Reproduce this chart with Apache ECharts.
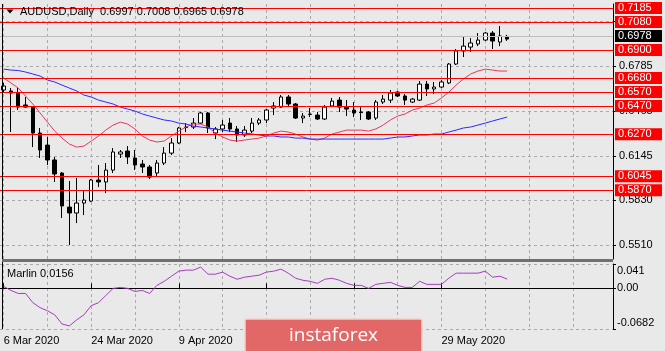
<!DOCTYPE html>
<html>
<head>
<meta charset="utf-8">
<script src="https://cdn.jsdelivr.net/npm/echarts@6/dist/echarts.min.js"></script>
<style>
  html, body { margin: 0; padding: 0; background: #e9e9e9; }
  #chart { width: 665px; height: 351px; }
</style>
</head>
<body>
<div id="chart"></div>
<script>
// daily bars, 6 Mar .. 11 Jun 2020, plus empty slots on the right
var categories = [
  '6 Mar 2020', '9 Mar 2020', '10 Mar 2020', '11 Mar 2020', '12 Mar 2020', '13 Mar 2020',
  '16 Mar 2020', '17 Mar 2020', '18 Mar 2020', '19 Mar 2020', '20 Mar 2020',
  '23 Mar 2020', '24 Mar 2020', '25 Mar 2020', '26 Mar 2020', '27 Mar 2020',
  '30 Mar 2020', '31 Mar 2020', '1 Apr 2020', '2 Apr 2020', '3 Apr 2020',
  '6 Apr 2020', '7 Apr 2020', '8 Apr 2020', '9 Apr 2020', '10 Apr 2020',
  '13 Apr 2020', '14 Apr 2020', '15 Apr 2020', '16 Apr 2020', '17 Apr 2020',
  '20 Apr 2020', '21 Apr 2020', '22 Apr 2020', '23 Apr 2020', '24 Apr 2020',
  '27 Apr 2020', '28 Apr 2020', '29 Apr 2020', '30 Apr 2020', '1 May 2020',
  '4 May 2020', '5 May 2020', '6 May 2020', '7 May 2020', '8 May 2020',
  '11 May 2020', '12 May 2020', '13 May 2020', '14 May 2020', '15 May 2020',
  '18 May 2020', '19 May 2020', '20 May 2020', '21 May 2020', '22 May 2020',
  '25 May 2020', '26 May 2020', '27 May 2020', '28 May 2020', '29 May 2020',
  '1 Jun 2020', '2 Jun 2020', '3 Jun 2020', '4 Jun 2020', '5 Jun 2020',
  '8 Jun 2020', '9 Jun 2020', '10 Jun 2020', '11 Jun 2020',
  '12 Jun 2020', '15 Jun 2020', '16 Jun 2020', '17 Jun 2020', '18 Jun 2020', '19 Jun 2020',
  '22 Jun 2020', '23 Jun 2020', '24 Jun 2020', '25 Jun 2020', '26 Jun 2020',
  '29 Jun 2020', '30 Jun 2020', '1 Jul 2020'
];

var openPrices = [
  0.6615, 0.6608, 0.6593, 0.6508, 0.6493, 0.6308, 0.6222, 0.6116, 0.6023, 0.5780,
  0.5738, 0.5809, 0.5823, 0.5973, 0.5959, 0.6044, 0.6158, 0.6180, 0.6130, 0.6087,
  0.6066, 0.6023, 0.6094, 0.6165, 0.6237, 0.6347, 0.6351, 0.6379, 0.6451, 0.6308,
  0.6337, 0.6379, 0.6337, 0.6294, 0.6322, 0.6379, 0.6401, 0.6486, 0.6493, 0.6565,
  0.6515, 0.6415, 0.6440, 0.6436, 0.6408, 0.6501, 0.6543, 0.6493, 0.6472, 0.6458,
  0.6458, 0.6415, 0.6529, 0.6543, 0.6600, 0.6572, 0.6529, 0.6543, 0.6657, 0.6622,
  0.6636, 0.6665, 0.6800, 0.6893, 0.6921, 0.6943, 0.6971, 0.7021, 0.6957, 0.6997
];
var closePrices = [
  0.6643, 0.6593, 0.6493, 0.6493, 0.6308, 0.6187, 0.6116, 0.6016, 0.5788, 0.5738,
  0.5809, 0.5830, 0.5973, 0.5959, 0.6044, 0.6173, 0.6173, 0.6137, 0.6080, 0.6066,
  0.5994, 0.6094, 0.6165, 0.6237, 0.6344, 0.6351, 0.6379, 0.6451, 0.6344, 0.6337,
  0.6365, 0.6337, 0.6294, 0.6329, 0.6379, 0.6401, 0.6472, 0.6501, 0.6565, 0.6515,
  0.6415, 0.6429, 0.6443, 0.6408, 0.6493, 0.6536, 0.6493, 0.6479, 0.6451, 0.6454,
  0.6408, 0.6529, 0.6550, 0.6593, 0.6572, 0.6543, 0.6550, 0.6657, 0.6622, 0.6636,
  0.6672, 0.6800, 0.6893, 0.6928, 0.6950, 0.6971, 0.7021, 0.6964, 0.7000, 0.6978
];
var lowPrices = [
  0.6600, 0.6315, 0.6472, 0.6486, 0.6208, 0.6130, 0.6080, 0.5959, 0.5702, 0.5509,
  0.5666, 0.5723, 0.5816, 0.5923, 0.5880, 0.6023, 0.6130, 0.6087, 0.6044, 0.6023,
  0.5980, 0.5994, 0.6080, 0.6151, 0.6230, 0.6315, 0.6337, 0.6372, 0.6308, 0.6265,
  0.6315, 0.6315, 0.6244, 0.6280, 0.6308, 0.6365, 0.6379, 0.6436, 0.6486, 0.6493,
  0.6408, 0.6379, 0.6422, 0.6401, 0.6401, 0.6493, 0.6458, 0.6429, 0.6422, 0.6401,
  0.6401, 0.6401, 0.6515, 0.6522, 0.6565, 0.6508, 0.6522, 0.6536, 0.6572, 0.6586,
  0.6629, 0.6657, 0.6793, 0.6850, 0.6886, 0.6928, 0.6964, 0.6907, 0.6928, 0.6965
];
var highPrices = [
  0.6665, 0.6629, 0.6629, 0.6565, 0.6500, 0.6344, 0.6280, 0.6137, 0.6030, 0.5966,
  0.5987, 0.5902, 0.5980, 0.6080, 0.6094, 0.6201, 0.6187, 0.6215, 0.6187, 0.6116,
  0.6080, 0.6116, 0.6208, 0.6272, 0.6351, 0.6379, 0.6415, 0.6458, 0.6458, 0.6351,
  0.6401, 0.6415, 0.6358, 0.6358, 0.6415, 0.6415, 0.6479, 0.6529, 0.6579, 0.6579,
  0.6522, 0.6451, 0.6486, 0.6458, 0.6508, 0.6558, 0.6565, 0.6543, 0.6529, 0.6493,
  0.6465, 0.6543, 0.6579, 0.6615, 0.6608, 0.6586, 0.6558, 0.6679, 0.6679, 0.6672,
  0.6686, 0.6807, 0.6907, 0.6992, 0.6985, 0.7021, 0.7028, 0.7035, 0.7071, 0.7008
];

// red (fast) and blue (slow) moving averages as drawn on the chart
var maFast = [
  0.6700, 0.6665, 0.6629, 0.6572, 0.6515, 0.6451, 0.6386, 0.6322, 0.6272, 0.6230,
  0.6208, 0.6215, 0.6251, 0.6287, 0.6329, 0.6365, 0.6386, 0.6372, 0.6337, 0.6287,
  0.6258, 0.6244, 0.6251, 0.6287, 0.6322, 0.6351, 0.6372, 0.6372, 0.6351, 0.6308,
  0.6280, 0.6258, 0.6251, 0.6258, 0.6265, 0.6272, 0.6287, 0.6308, 0.6322, 0.6315,
  0.6301, 0.6280, 0.6265, 0.6258, 0.6272, 0.6301, 0.6315, 0.6329, 0.6329, 0.6329,
  0.6322, 0.6337, 0.6365, 0.6401, 0.6429, 0.6444, 0.6472, 0.6486, 0.6508, 0.6522,
  0.6558, 0.6600, 0.6650, 0.6693, 0.6729, 0.6750, 0.6764, 0.6757, 0.6750, 0.6750
];
var maSlow = [
  0.6764, 0.6757, 0.6754, 0.6743, 0.6729, 0.6714, 0.6686, 0.6672, 0.6650, 0.6629,
  0.6608, 0.6579, 0.6565, 0.6543, 0.6529, 0.6515, 0.6493, 0.6479, 0.6465, 0.6444,
  0.6429, 0.6415, 0.6401, 0.6394, 0.6379, 0.6372, 0.6358, 0.6351, 0.6344, 0.6337,
  0.6329, 0.6322, 0.6315, 0.6308, 0.6301, 0.6294, 0.6287, 0.6287, 0.6280, 0.6280,
  0.6272, 0.6272, 0.6265, 0.6265, 0.6265, 0.6265, 0.6265, 0.6265, 0.6265, 0.6265,
  0.6265, 0.6265, 0.6265, 0.6272, 0.6280, 0.6280, 0.6287, 0.6294, 0.6294, 0.6301,
  0.6301, 0.6315, 0.6329, 0.6344, 0.6351, 0.6365, 0.6379, 0.6394, 0.6408, 0.6422
];

var marlin = [
  0.0034, -0.0034, -0.0085, -0.0085, -0.0239, -0.0324, -0.0375, -0.0444, -0.0597, -0.0631,
  -0.0529, -0.0444, -0.0290, -0.0239, -0.0119, 0.0000, 0.0017, 0.0000, -0.0051, -0.0034,
  -0.0085, 0.0051, 0.0119, 0.0205, 0.0290, 0.0307, 0.0307, 0.0358, 0.0239, 0.0239,
  0.0273, 0.0205, 0.0154, 0.0188, 0.0205, 0.0222, 0.0273, 0.0290, 0.0324, 0.0256,
  0.0171, 0.0137, 0.0119, 0.0085, 0.0154, 0.0171, 0.0137, 0.0085, 0.0051, 0.0051,
  0.0000, 0.0068, 0.0085, 0.0102, 0.0051, 0.0017, 0.0017, 0.0119, 0.0068, 0.0068,
  0.0068, 0.0171, 0.0256, 0.0256, 0.0256, 0.0256, 0.0290, 0.0188, 0.0205, 0.0156
];

var levels = [0.7185, 0.7080, 0.6900, 0.6680, 0.6570, 0.6470, 0.6270, 0.6045, 0.5870];
var priceTicks = [0.5510, 0.5830, 0.6145, 0.6465, 0.6785, 0.7105];
var marlinTicks = [-0.0682, 0, 0.041];
var marlinTickLabels = ['-0.0682', '0.00', '0.041'];

var FONT = 'Liberation Sans';
var lastClose = closePrices[closePrices.length - 1];

var ohlc = openPrices.map(function (o, i) {
  return [o, closePrices[i], lowPrices[i], highPrices[i]];
});

var gridDash = { color: '#aaaaaa', type: [3, 3], width: 1 };
var everySix = function (i) { return i % 6 === 0; };
var dateTick = function (i) { return i % 12 === 0 && i < closePrices.length; };

var levelLines = levels.map(function (v) {
  return {
    yAxis: v,
    lineStyle: { color: '#ff0000', width: 1, type: 'solid' },
    label: {
      show: true, position: 'end', distance: 2,
      formatter: v.toFixed(4),
      color: '#ffffff', backgroundColor: '#ff0000',
      fontFamily: FONT, fontSize: 11, lineHeight: 11,
      width: 41, padding: [1, 3, 0, 3]
    }
  };
});
levelLines.push({
  yAxis: lastClose,
  lineStyle: { color: '#bdbdbd', width: 1, type: 'solid' },
  label: {
    show: true, position: 'end', distance: 2,
    formatter: lastClose.toFixed(4),
    color: '#ffffff', backgroundColor: '#000000',
    fontFamily: FONT, fontSize: 11, lineHeight: 11,
    width: 41, padding: [1, 3, 0, 3]
  }
});

var chart = echarts.init(document.getElementById('chart'));

var option = {
  backgroundColor: '#e9e9e9',
  animation: false,
  textStyle: { fontFamily: FONT },
  grid: [
    { left: 0, right: 52, top: 4, height: 255, outerBoundsMode: 'none' },
    { left: 0, right: 52, top: 264, height: 65, outerBoundsMode: 'none' }
  ],
  xAxis: [{
    type: 'category',
    gridIndex: 0,
    data: categories,
    boundaryGap: true,
    axisLine: { show: false },
    axisTick: { show: false },
    axisLabel: { show: false },
    splitLine: { show: true, interval: everySix, alignWithLabel: true, lineStyle: gridDash }
  }, {
    type: 'category',
    gridIndex: 1,
    data: categories,
    boundaryGap: true,
    axisLine: { show: true, lineStyle: { color: '#000000', width: 1 } },
    axisTick: { show: true, interval: dateTick, alignWithLabel: true, inside: true, length: 5, lineStyle: { color: '#000000' } },
    axisLabel: { show: true, interval: dateTick, align: 'left', margin: 6, color: '#000000', fontSize: 11, fontFamily: FONT },
    splitLine: { show: true, interval: everySix, alignWithLabel: true, lineStyle: gridDash }
  }],
  yAxis: [{
    type: 'value',
    gridIndex: 0,
    position: 'right',
    min: 0.5410,
    max: 0.7228,
    axisLine: { show: true, lineStyle: { color: '#000000', width: 1 } },
    axisTick: { show: true, length: 3, customValues: priceTicks, lineStyle: { color: '#000000' } },
    axisLabel: {
      customValues: priceTicks, margin: 6, color: '#000000', fontSize: 11, fontFamily: FONT,
      formatter: function (v) { return v.toFixed(4); }
    },
    splitLine: { show: true, lineStyle: gridDash }
  }, {
    type: 'value',
    gridIndex: 1,
    position: 'right',
    min: -0.0682,
    max: 0.041,
    axisLine: { show: true, lineStyle: { color: '#000000', width: 1 } },
    axisTick: { show: true, length: 3, customValues: marlinTicks, lineStyle: { color: '#000000' } },
    axisLabel: {
      customValues: marlinTicks, margin: 4, color: '#000000', fontSize: 11, fontFamily: FONT,
      formatter: function (v) {
        var k = 0, best = 1;
        marlinTicks.forEach(function (t, j) {
          if (Math.abs(t - v) < best) { best = Math.abs(t - v); k = j; }
        });
        var tag = k === 0 ? 'b' : (k === marlinTicks.length - 1 ? 't' : 'm');
        return '{' + tag + '|' + marlinTickLabels[k] + '}';
      },
      rich: {
        t: { padding: [14, 0, 0, 0], fontSize: 11, fontFamily: FONT, color: '#000' },
        m: { fontSize: 11, fontFamily: FONT, color: '#000' },
        b: { padding: [0, 0, 12, 0], fontSize: 11, fontFamily: FONT, color: '#000' }
      }
    },
    splitLine: { show: true, lineStyle: gridDash }
  }],
  series: [{
    name: 'AUDUSD',
    type: 'candlestick',
    xAxisIndex: 0,
    yAxisIndex: 0,
    data: ohlc,
    barWidth: 4,
    itemStyle: {
      color: '#ffffff', color0: '#000000',
      borderColor: '#000000', borderColor0: '#000000', borderWidth: 1
    },
    markLine: {
      silent: true,
      symbol: 'none',
      animation: false,
      data: levelLines
    }
  }, {
    name: 'MA fast',
    type: 'line',
    xAxisIndex: 0,
    yAxisIndex: 0,
    data: maFast,
    showSymbol: false,
    lineStyle: { color: '#e8385a', width: 1 },
    z: 3
  }, {
    name: 'MA slow',
    type: 'line',
    xAxisIndex: 0,
    yAxisIndex: 0,
    data: maSlow,
    showSymbol: false,
    lineStyle: { color: '#2b2bff', width: 1 },
    z: 3
  }, {
    name: 'Marlin',
    type: 'line',
    xAxisIndex: 1,
    yAxisIndex: 1,
    data: marlin,
    showSymbol: false,
    lineStyle: { color: '#a83cc0', width: 1 }
  }],
  graphic: [
    // window frame pieces
    { type: 'line', shape: { x1: 2.5, y1: 4, x2: 2.5, y2: 329 }, style: { stroke: '#000000', lineWidth: 1 }, z: 50 },
    { type: 'rect', shape: { x: 2, y: 259, width: 611, height: 3 }, style: { fill: '#707070' }, z: 50 },
    // header
    { type: 'polygon', shape: { points: [[6.5, 9.5], [13.5, 9.5], [10, 13.5]] }, style: { fill: '#000000' }, z: 60 },
    { type: 'text', x: 20, y: 12, style: { text: 'AUDUSD,Daily  0.6997 0.7008 0.6965 0.6978', fill: '#000000', font: '11px "' + FONT + '"', verticalAlign: 'middle' }, z: 60 },
    { type: 'text', x: 7, y: 274, style: { text: 'Marlin 0.0156', fill: '#000000', font: '11px "' + FONT + '"', verticalAlign: 'middle' }, z: 60 },
    // watermark
    { type: 'rect', shape: { x: 245, y: 319, width: 177, height: 40, r: 2 }, style: { fill: '#e26868', stroke: '#f3d0d0', lineWidth: 1.5 }, z: 90 },
    { type: 'text', x: 289, y: 336, style: { text: 'instaforex', fill: '#ffffff', font: '19px "Open Sans"', verticalAlign: 'middle' }, z: 91 }
  ]
};

chart.setOption(option);
</script>
</body>
</html>
